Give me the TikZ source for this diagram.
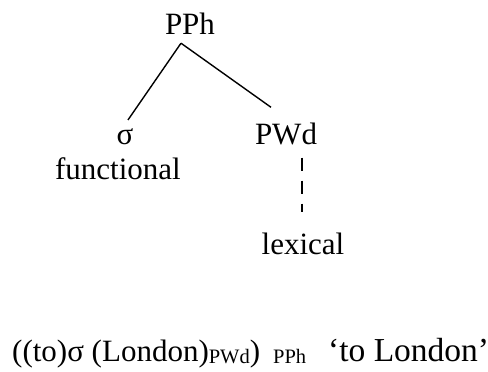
\documentclass[tikz,border=0pt]{standalone}
\usepackage{fontspec}
\setmainfont{Liberation Serif}
\newcommand{\subtxt}[1]{\raisebox{-2pt}{\fontsize{20.5}{24}\selectfont #1}}
\begin{document}
\begin{tikzpicture}[x=1pt,y=1pt,
  lbl/.style={inner sep=0pt,anchor=base,font=\fontsize{31}{36}\selectfont},
  branch/.style={line width=1.4pt},
  dashbranch/.style={line width=1.4pt,dash pattern=on 13pt off 10pt}]
\useasboundingbox (0,0) rectangle (488,372);
\node[lbl] (pph) at (190,337) {PPh};
\node[lbl] (sig) at (125,227) {σ};
\node[lbl] (pwd) at (286,227) {PWd};
\node[lbl] (fun) at (118,192) {functional};
\node[lbl] (lex) at (303,117) {lexical};
\node[lbl,anchor=base west] (gloss) at (12,10) {((to)σ (London)\subtxt{PWd})\hspace{13pt}\subtxt{PPh}\hspace{22pt}{\fontsize{33.5}{38}\selectfont ‘to London’}};
\draw[branch] ([xshift=-9pt,yshift=-8pt]pph.south) -- ([xshift=3pt,yshift=9pt]sig.north);
\draw[branch] ([xshift=-9pt,yshift=-8pt]pph.south) -- ([xshift=-15pt,yshift=16pt]pwd.north);
\draw[dashbranch] ([xshift=16pt,yshift=-12pt]pwd.south) -- ([xshift=-1pt,yshift=21pt]lex.north);
\end{tikzpicture}
\end{document}
